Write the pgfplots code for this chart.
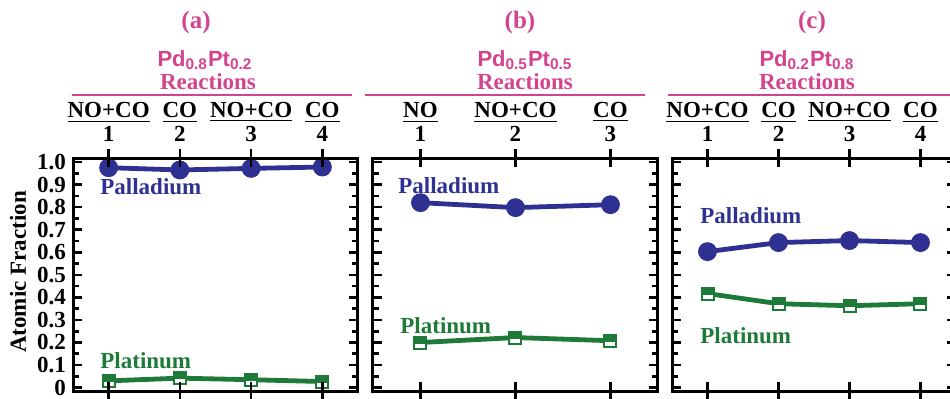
\documentclass[border=0pt]{standalone}
\usepackage{pgfplots}
\pgfplotsset{compat=1.18}
\usepackage{fontspec}
\setmainfont{Liberation Serif}
\newfontfamily\pdfont{Liberation Sans}
\definecolor{ttlpink}{RGB}{212,68,142}
\definecolor{pdblue}{RGB}{46,49,146}
\definecolor{ptgreen}{RGB}{30,122,56}
\pgfdeclareplotmark{halfsq}{%
  \pgfscope
  \pgfsetfillcolor{white}%
  \pgfpathrectangle{\pgfpoint{-\pgfplotmarksize}{-\pgfplotmarksize}}{\pgfpoint{2\pgfplotmarksize}{2\pgfplotmarksize}}%
  \pgfusepath{fill}%
  \endpgfscope
  \pgfscope
  \pgfsetfillcolor{ptgreen}%
  \pgfpathrectangle{\pgfpoint{-\pgfplotmarksize}{-0.2\pgfplotmarksize}}{\pgfpoint{2\pgfplotmarksize}{1.2\pgfplotmarksize}}%
  \pgfusepath{fill}%
  \endpgfscope
  \pgfscope
  \pgfsetstrokecolor{ptgreen}%
  \pgfpathrectangle{\pgfpoint{-\pgfplotmarksize}{-\pgfplotmarksize}}{\pgfpoint{2\pgfplotmarksize}{2\pgfplotmarksize}}%
  \pgfusepath{stroke}%
  \endpgfscope
}
\newcommand\fnt{\fontsize{10.8}{12}\selectfont\bfseries}
\newcommand\tfnt{\fontsize{11.5}{12}\selectfont\bfseries}
\pgfplotsset{
  panelA/.style={
    scale only axis, height=116.5pt, ymin=-0.015, ymax=1.018,
    ytick={0,0.1,0.2,0.3,0.4,0.5,0.6,0.7,0.8,0.9,1.0},
    minor y tick num=1, tick align=inside,
    yticklabels={}, xtick={1,2,3,4}, xtick pos=upper, xticklabel pos=upper,
    major x tick style={draw=none},
    axis line style={line width=1.5pt},
    every tick/.style={line width=1.3pt, black},
    major tick length=4.5pt, minor tick length=3pt,
    xticklabel style={align=center, font=\tfnt, yshift=4.5pt},
    clip=false},
  panelB/.style={
    scale only axis, height=116.5pt, ymin=-0.015, ymax=1.018,
    hide y axis, xtick={1,2,3,4}, xticklabels={}, tick align=center,
    major tick length=9pt,
    axis line style={line width=1.5pt},
    every tick/.style={line width=1.3pt, black}},
  pd/.style={color=pdblue, line width=2.4pt, mark=*, mark size=3.5pt, mark options={solid}},
  pt/.style={color=ptgreen, line width=2.4pt, mark=halfsq, mark size=3pt, mark options={solid, line width=1pt}},
}
\begin{document}
\begin{tikzpicture}
\useasboundingbox (0,0) rectangle (475pt,-199pt);
\clip (0,0) rectangle (475pt,-199pt);

% titles
\begin{scope}[every node/.style={inner sep=0pt}]
\node[ttlpink, font=\fontsize{12.5}{13}\selectfont\bfseries] at (98pt,-11pt) {(a)};
\node[ttlpink, font=\fontsize{12.5}{13}\selectfont\bfseries] at (260pt,-11pt) {(b)};
\node[ttlpink, font=\fontsize{12.5}{13}\selectfont\bfseries] at (406pt,-11pt) {(c)};
\node[ttlpink, font=\pdfont\fontsize{11}{12}\selectfont\bfseries] at (102.5pt,-30pt) {Pd\textsubscript{0.8}Pt\textsubscript{0.2}};
\node[ttlpink, font=\pdfont\fontsize{11}{12}\selectfont\bfseries] at (262.5pt,-30pt) {Pd\textsubscript{0.5}Pt\textsubscript{0.5}};
\node[ttlpink, font=\pdfont\fontsize{11}{12}\selectfont\bfseries] at (403.5pt,-30pt) {Pd\textsubscript{0.2}Pt\textsubscript{0.8}};
\node[ttlpink, font=\tfnt] at (104pt,-41pt) {Reactions};
\node[ttlpink, font=\tfnt] at (262.5pt,-41pt) {Reactions};
\node[ttlpink, font=\tfnt] at (403.5pt,-41pt) {Reactions};
\end{scope}
\draw[ttlpink, line width=1.3pt] (36pt,-47.5pt) -- (176pt,-47.5pt);
\draw[ttlpink, line width=1.3pt] (182.5pt,-47.5pt) -- (322.5pt,-47.5pt);
\draw[ttlpink, line width=1.3pt] (334pt,-47.5pt) -- (476pt,-47.5pt);

% y axis title
\node[font=\tfnt, rotate=90] at (9pt,-136pt) {Atomic Fraction};

% panel (a)
\begin{axis}[panelA, at={(36.5pt,-79pt)}, anchor=north west, width=142.5pt, xmin=0.5, xmax=4.5,
  xticklabels={{\underline{NO+CO}\\1},{\underline{CO}\\2},{\underline{NO+CO}\\3},{\underline{CO}\\4}},
  yticklabels={0,0.1,0.2,0.3,0.4,0.5,0.6,0.7,0.8,0.9,1.0},
  yticklabel style={font=\tfnt}, ytick pos=both, yticklabel pos=left]
\addplot[pd] coordinates {(1,0.975) (2,0.965) (3,0.972) (4,0.978)};
\addplot[pt] coordinates {(1,0.030) (2,0.042) (3,0.035) (4,0.027)};
\end{axis}
\begin{axis}[panelB, at={(36.5pt,-79pt)}, anchor=north west, width=142.5pt, xmin=0.5, xmax=4.5]
\end{axis}

% panel (b)
\begin{axis}[panelA, at={(186.5pt,-79pt)}, anchor=north west, width=142.5pt, xmin=0.5, xmax=3.5,
  xtick={1,2,3},
  xticklabels={{\underline{NO}\\1},{\underline{NO+CO}\\2},{\underline{CO}\\3}}]
\addplot[pd] coordinates {(1,0.820) (2,0.798) (3,0.811)};
\addplot[pt] coordinates {(1,0.200) (2,0.222) (3,0.208)};
\end{axis}
\begin{axis}[panelB, at={(186.5pt,-79pt)}, anchor=north west, width=142.5pt, xmin=0.5, xmax=3.5, xtick={1,2,3}]
\end{axis}

% panel (c)
\begin{axis}[panelA, at={(336pt,-79pt)}, anchor=north west, width=142pt, xmin=0.5, xmax=4.5,
  xticklabels={{\underline{NO+CO}\\1},{\underline{CO}\\2},{\underline{NO+CO}\\3},{\underline{CO}\\4}}]
\addplot[pd] coordinates {(1,0.603) (2,0.643) (3,0.652) (4,0.643)};
\addplot[pt] coordinates {(1,0.417) (2,0.372) (3,0.363) (4,0.372)};
\end{axis}
\begin{axis}[panelB, at={(336pt,-79pt)}, anchor=north west, width=142pt, xmin=0.5, xmax=4.5]
\end{axis}

% series labels
\begin{scope}[every node/.style={inner sep=0pt, anchor=base west, font=\tfnt}]
\node[pdblue] at (50pt,-97pt) {Palladium};
\node[ptgreen] at (50pt,-184pt) {Platinum};
\node[pdblue] at (199pt,-96.5pt) {Palladium};
\node[ptgreen] at (200pt,-166.5pt) {Platinum};
\node[pdblue] at (350pt,-111.5pt) {Palladium};
\node[ptgreen] at (350pt,-171.5pt) {Platinum};
\end{scope}
\end{tikzpicture}
\end{document}
